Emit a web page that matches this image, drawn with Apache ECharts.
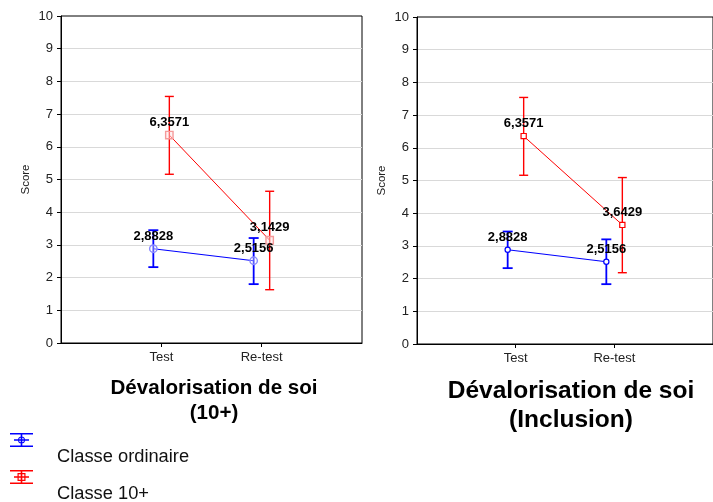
<!DOCTYPE html>
<html><head><meta charset="utf-8">
<script src="https://cdn.jsdelivr.net/npm/echarts@6/dist/echarts.min.js"></script>
<style>html,body{margin:0;padding:0;background:#fff}#c{width:713px;height:502px}</style>
</head><body><div id="c"></div>
<script>
// ---- data ----
const categories = ['Test', 'Re-test'];
const seriesNames = ['Classe ordinaire', 'Classe 10+'];
const panelTitles = ['Dévalorisation de soi\n(10+)', 'Dévalorisation de soi\n(Inclusion)'];
const yAxisName = 'Score';
const yMin = 0, yMax = 10, yStep = 1;

// Panel 1 : Dévalorisation de soi (10+)
const p1OrdMean = [2.8828, 2.5156];
const p1OrdLow  = [2.32, 1.80];
const p1OrdHigh = [3.45, 3.21];
const p1TenMean = [6.3571, 3.1429];
const p1TenLow  = [5.16, 1.63];
const p1TenHigh = [7.54, 4.64];

// Panel 2 : Dévalorisation de soi (Inclusion)
const p2OrdMean = [2.8828, 2.5156];
const p2OrdLow  = [2.32, 1.83];
const p2OrdHigh = [3.44, 3.20];
const p2TenMean = [6.3571, 3.6429];
const p2TenLow  = [5.16, 2.18];
const p2TenHigh = [7.54, 5.09];

// ---- styling ----
const FONT = '"Liberation Sans", Arial, Helvetica, sans-serif';
const BLUE = '#0000ff', RED = '#ff0000';
const fmt = v => v.toFixed(4).replace('.', ',');

const specs = [
  {panel:0, name:seriesNames[0], mean:p1OrdMean, low:p1OrdLow, high:p1OrdHigh, color:BLUE, off:-8, cap:10, lw:1.8, lineW:1.2, marker:'circle', r:3.7, mStroke:'#8a8aff', mFill:'rgba(255,255,255,0.35)', mW:1.4},
  {panel:0, name:seriesNames[1], mean:p1TenMean, low:p1TenLow, high:p1TenHigh, color:RED, off:8, cap:9, lw:1.4, lineW:1, marker:'square', r:3.7, mStroke:'#f59a9a', mFill:'rgba(255,230,230,0.5)', mW:1.4},
  {panel:1, name:seriesNames[0], mean:p2OrdMean, low:p2OrdLow, high:p2OrdHigh, color:BLUE, off:-8, cap:10, lw:1.8, lineW:1.2, marker:'circle', r:2.6, mStroke:BLUE, mFill:'#fff', mW:1.2},
  {panel:1, name:seriesNames[1], mean:p2TenMean, low:p2TenLow, high:p2TenHigh, color:RED, off:8, cap:9, lw:1.4, lineW:1, marker:'square', r:2.6, mStroke:RED, mFill:'#fff', mW:1.2}
];

function makeRender(s) {
  return function (params, api) {
    const i = params.dataIndex;
    const pt = (k, v) => { const c = api.coord([k + 1, v]); return [c[0] + s.off, c[1]]; };
    const c = pt(i, s.mean[i]), lo = pt(i, s.low[i]), hi = pt(i, s.high[i]);
    const ch = [];
    if (i > 0) {
      const p = pt(i - 1, s.mean[i - 1]);
      ch.push({type:'line', shape:{x1:p[0], y1:p[1], x2:c[0], y2:c[1]}, style:{stroke:s.color, lineWidth:s.lineW}, z2:1});
    }
    const h = s.cap / 2;
    ch.push({type:'line', shape:{x1:c[0], y1:hi[1], x2:c[0], y2:lo[1]}, style:{stroke:s.color, lineWidth:s.lw}, z2:2});
    ch.push({type:'line', shape:{x1:c[0]-h, y1:hi[1], x2:c[0]+h, y2:hi[1]}, style:{stroke:s.color, lineWidth:s.lw}, z2:2});
    ch.push({type:'line', shape:{x1:c[0]-h, y1:lo[1], x2:c[0]+h, y2:lo[1]}, style:{stroke:s.color, lineWidth:s.lw}, z2:2});
    if (s.marker === 'circle') {
      ch.push({type:'circle', shape:{cx:c[0], cy:c[1], r:s.r}, style:{stroke:s.mStroke, fill:s.mFill, lineWidth:s.mW}, z2:3});
    } else {
      ch.push({type:'rect', shape:{x:c[0]-s.r, y:c[1]-s.r, width:2*s.r, height:2*s.r}, style:{stroke:s.mStroke, fill:s.mFill, lineWidth:s.mW}, z2:3});
    }
    ch.push({type:'text', x:c[0], y:c[1]-12.5, style:{text:fmt(s.mean[i]), fill:'#000', font:'bold 13px ' + FONT, align:'center', verticalAlign:'middle'}, z2:10});
    return {type:'group', children:ch};
  };
}

const grids = [
  {left:61, top:16, width:301, height:327},
  {left:417, top:17, width:307, height:327}
].map(g => Object.assign({show:true, borderColor:'#000', borderWidth:1, backgroundColor:'transparent'}, g));

const xAxes = grids.map((g, gi) => ({
  type:'value', gridIndex:gi, min:0, max:categories.length + 1, interval:1,
  axisLine:{show:true, lineStyle:{color:'#000', width:1}},
  axisTick:{show:true, customValues:categories.map((c, k) => k + 1), length:4, lineStyle:{color:'#000'}},
  axisLabel:{customValues:categories.map((c, k) => k + 1), formatter:v => categories[v - 1] || '', color:'#222', fontSize:13, margin:8, fontFamily:FONT},
  splitLine:{show:true, showMinLine:false, showMaxLine:false, lineStyle:{color:'#d9d9d9', width:1}}
}));

const yAxes = grids.map((g, gi) => ({
  type:'value', gridIndex:gi, min:yMin, max:yMax, interval:yStep,
  name:yAxisName, nameLocation:'middle', nameGap:29,
  nameTextStyle:{fontSize:11.5, color:'#222', fontFamily:FONT},
  axisLine:{show:true, lineStyle:{color:'#000', width:1}},
  axisTick:{show:true, length:4, lineStyle:{color:'#000'}},
  axisLabel:{color:'#222', fontSize:13, margin:8, fontFamily:FONT},
  splitLine:{show:true, showMinLine:false, showMaxLine:false, lineStyle:{color:'#d9d9d9', width:1}}
}));

const series = specs.map(s => ({
  type:'custom', name:s.name, xAxisIndex:s.panel, yAxisIndex:s.panel,
  itemStyle:{color:s.color},
  data:categories.map((c, k) => [k + 1, s.mean[k], s.low[k], s.high[k]]),
  renderItem:makeRender(s), clip:false, silent:true
}));

const blueIcon = 'path://M0 0H23V1.6H0Z M0 12.4H23V14H0Z M10.7 0H12.3V14H10.7Z M4 6.3H19V7.7H4Z M15 7A3.5 3.5 0 1 1 8 7A3.5 3.5 0 1 1 15 7Z M14 7A2.5 2.5 0 1 0 9 7A2.5 2.5 0 1 0 14 7Z';
const redIcon = 'path://M0 0H23V1.6H0Z M0 12.4H23V14H0Z M10.7 0H12.3V14H10.7Z M4 6.3H19V7.7H4Z M7.5 3H15.5V11H7.5Z M8.7 4.2V9.8H14.3V4.2Z';

function legendFor(name, icon, color, top) {
  return {
    left:5, top:top, orient:'vertical', itemWidth:23, itemHeight:14, itemGap:0,
    data:[{name:name, icon:icon, itemStyle:{color:color}}],
    formatter:n => '\n' + n,
    textStyle:{fontSize:18.3, color:'#111', fontFamily:FONT, lineHeight:33, padding:[0,0,0,19]}
  };
}

const option = {
  animation:false,
  textStyle:{fontFamily:FONT},
  title:[
    {text:panelTitles[0], left:209, top:371, textAlign:'center',
     textStyle:{fontSize:20.6, fontWeight:'bold', color:'#000', lineHeight:25, fontFamily:FONT}},
    {text:panelTitles[1], left:566, top:371, textAlign:'center',
     textStyle:{fontSize:24.5, fontWeight:'bold', color:'#000', lineHeight:29.5, fontFamily:FONT}}
  ],
  legend:[
    legendFor(seriesNames[0], blueIcon, BLUE, 402),
    legendFor(seriesNames[1], redIcon, RED, 439)
  ],
  grid:grids, xAxis:xAxes, yAxis:yAxes, series:series
};

const chart = echarts.init(document.getElementById('c'), null, {renderer:'canvas'});
chart.setOption(option);
</script></body></html>
